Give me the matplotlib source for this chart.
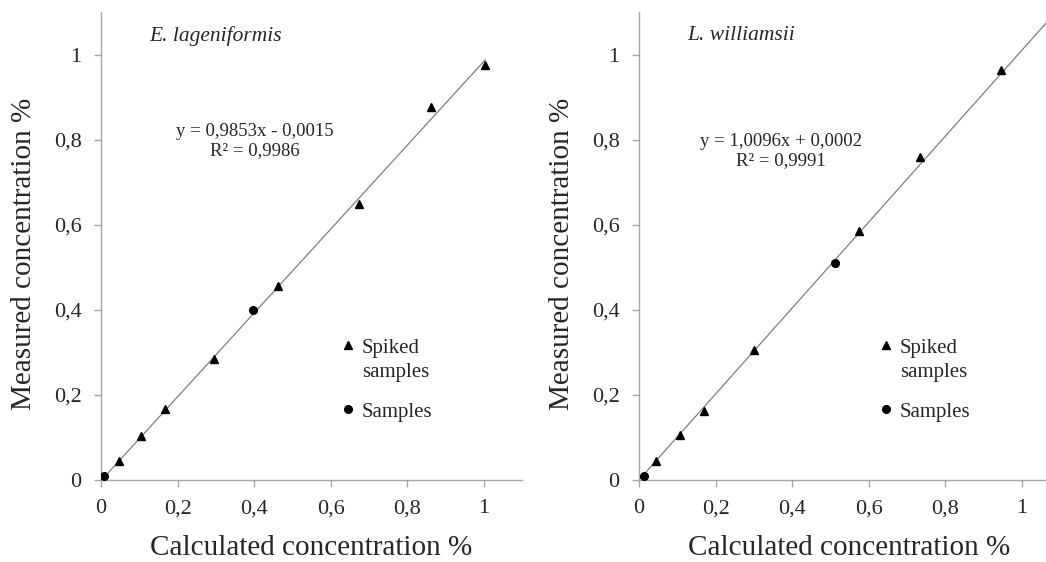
import matplotlib
matplotlib.use("Agg")
import matplotlib.pyplot as plt
import numpy as np

plt.rcParams["font.family"] = ["Liberation Serif", "DejaVu Serif"]

# E. lageniformis
el_spiked_x = [0.046, 0.105, 0.168, 0.296, 0.463, 0.673, 0.862, 1.004]
el_spiked_y = [0.044, 0.103, 0.166, 0.284, 0.455, 0.648, 0.877, 0.975]
el_sample_x = [0.007, 0.398]
el_sample_y = [0.009, 0.399]
el_fit = (0.9853, -0.0015, 0.9986)
el_fit_range = [0.007, 1.004]

# L. williamsii
lw_spiked_x = [0.044, 0.107, 0.171, 0.301, 0.575, 0.735, 0.946]
lw_spiked_y = [0.045, 0.105, 0.163, 0.305, 0.586, 0.759, 0.963]
lw_sample_x = [0.012, 0.512]
lw_sample_y = [0.010, 0.511]
lw_fit = (1.0096, 0.0002, 0.9991)
lw_fit_range = [0.0, 1.1]

ticks = [0, 0.2, 0.4, 0.6, 0.8, 1.0]
tick_labels = ["0", "0,2", "0,4", "0,6", "0,8", "1"]

AXIS_GREY = "#a6a6a6"
TEXT = "#262626"
TRI = dict(ls="none", marker="^", ms=6, color="black")
DOT = dict(ls="none", marker="o", ms=5.5, color="black")


def fmt(v, n):
    return f"{abs(v):.{n}f}".replace(".", ",")


def key(ax):
    # hand-placed key so the triangle sits on the first line of "Spiked samples"
    tr = ax.transAxes
    ax.plot([0.586], [0.288], transform=tr, clip_on=False, **TRI)
    ax.plot([0.586], [0.151], transform=tr, clip_on=False, **DOT)
    kw = dict(transform=tr, fontsize=15, color=TEXT, ha="left", va="baseline")
    ax.text(0.620, 0.271, "Spiked", **kw)
    ax.text(0.620, 0.220, "samples", **kw)
    ax.text(0.620, 0.135, "Samples", **kw)


def panel(ax, name, sx, sy, px, py, fit, fit_range, eq_xy):
    slope, icpt, r2 = fit
    xs = np.array(fit_range)
    ax.plot(xs, slope * xs + icpt, color="#7f7f7f", lw=0.9, zorder=1)
    ax.plot(sx, sy, zorder=3, **TRI)
    ax.plot(px, py, zorder=3, **DOT)

    ax.set_xlim(0, 1.1)
    ax.set_ylim(0, 1.1)
    ax.set_xticks(ticks)
    ax.set_xticklabels(tick_labels)
    ax.set_yticks(ticks)
    ax.set_yticklabels(tick_labels)
    for side in ("top", "right"):
        ax.spines[side].set_visible(False)
    for side in ("left", "bottom"):
        ax.spines[side].set_color(AXIS_GREY)
        ax.spines[side].set_linewidth(1.0)
    ax.tick_params(axis="both", direction="out", length=5, width=1.0,
                   color=AXIS_GREY, labelsize=16, labelcolor=TEXT)
    ax.tick_params(axis="x", pad=9)
    ax.tick_params(axis="y", pad=9)

    ax.set_xlabel("Calculated concentration %", fontsize=21, color=TEXT)
    ax.xaxis.set_label_coords(0.5, -0.145)
    ax.xaxis.label.set_va("center")
    ax.set_ylabel("Measured concentration %", fontsize=21, color=TEXT)
    ax.yaxis.set_label_coords(-0.183, 0.483)
    ax.yaxis.label.set_va("center")

    ax.text(0.114, 0.949, name, transform=ax.transAxes, fontsize=15.5,
            style="italic", color=TEXT, va="center", ha="left")
    sign = "-" if icpt < 0 else "+"
    eq = f"y = {fmt(slope, 4)}x {sign} {fmt(icpt, 4)}\nR² = {fmt(r2, 4)}"
    ax.text(eq_xy[0], eq_xy[1], eq, transform=ax.transAxes, fontsize=13.5,
            color=TEXT, ha="center", va="center", linespacing=1.2)
    key(ax)


fig = plt.figure(figsize=(10.46, 5.62), dpi=100)
ax1 = fig.add_axes([0.0966, 0.1459, 0.4025, 0.8327])
ax2 = fig.add_axes([0.6109, 0.1459, 0.4025, 0.8327])

panel(ax1, "E. lageniformis", el_spiked_x, el_spiked_y, el_sample_x, el_sample_y,
      el_fit, el_fit_range, (0.366, 0.724))
panel(ax2, "L. williamsii", lw_spiked_x, lw_spiked_y, lw_sample_x, lw_sample_y,
      lw_fit, lw_fit_range, (0.338, 0.703))

fig.savefig("out.png", dpi=100)
